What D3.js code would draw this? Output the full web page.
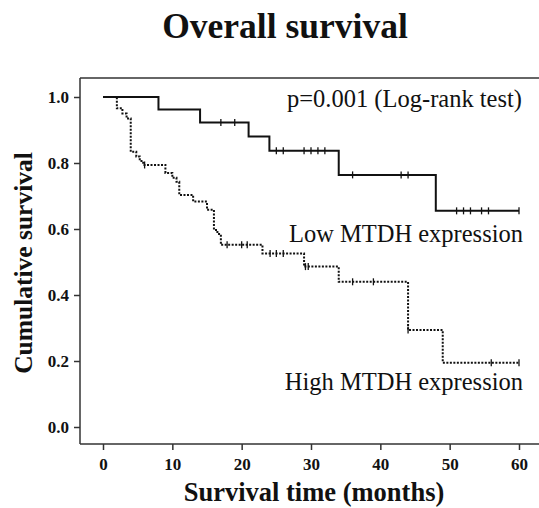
<!DOCTYPE html>
<html>
<head>
<meta charset="utf-8">
<script src="https://cdn.jsdelivr.net/npm/d3@7"></script>
<style>
  body { margin: 0; background: #fff; }
  svg { display: block; }
  text { font-family: "Liberation Serif", "Times New Roman", serif; fill: #111; }
  .axis text { font-size: 17px; font-weight: bold; }
  .axis path, .axis line { stroke: #333; stroke-width: 1.5px; }
</style>
</head>
<body>
<svg id="chart" width="539" height="508"></svg>
<script>
// Kaplan-Meier steps (time in months, survival after event)
var lowTimes  = [0, 8, 14, 21, 24, 34, 48];
var lowSurv   = [1.0, 0.962, 0.923, 0.88, 0.837, 0.764, 0.655];
var lowCensor = [17, 19, 25, 26, 29, 30, 31, 32, 36, 43, 44, 51, 52, 53, 54.6, 55.6, 60];

var highTimes  = [0, 2, 2.8, 3.4, 4, 4.8, 5.3, 5.8, 9, 10, 10.6, 11, 13, 15, 16, 16.5, 17, 23, 29, 34, 44, 49];
var highSurv   = [1.0, 0.966, 0.95, 0.935, 0.834, 0.82, 0.806, 0.794, 0.77, 0.755, 0.743, 0.703, 0.683, 0.658, 0.597, 0.585, 0.552, 0.526, 0.486, 0.44, 0.294, 0.195];
var highCensor = [6, 17.9, 20, 20.8, 24.1, 25, 26, 29.2, 29.6, 36, 39, 44, 56, 60];

var xTicks = [0, 10, 20, 30, 40, 50, 60];
var yTicks = [0, 0.2, 0.4, 0.6, 0.8, 1.0];

var svg = d3.select("#chart");

var x = d3.scaleLinear().domain([0, 60]).range([103, 519]);
var y = d3.scaleLinear().domain([0, 1]).range([427, 97]);

// title
svg.append("text")
  .attr("x", 285).attr("y", 38)
  .attr("text-anchor", "middle")
  .style("font-size", "35.5px").style("font-weight", "bold")
  .text("Overall survival");

// frame top
svg.append("line")
  .attr("x1", 80).attr("x2", 539).attr("y1", 78).attr("y2", 78)
  .attr("stroke", "#333").attr("stroke-width", 1.5);

// axes
var xAxis = svg.append("g")
  .attr("class", "axis")
  .attr("transform", "translate(0,444)")
  .call(d3.axisBottom(x).tickValues(xTicks).tickSize(6).tickPadding(8).tickFormat(d3.format("d")));
xAxis.select(".domain").attr("d", "M80,0H539");

var yAxis = svg.append("g")
  .attr("class", "axis")
  .attr("transform", "translate(80,0)")
  .call(d3.axisLeft(y).tickValues(yTicks).tickSize(6).tickPadding(5).tickFormat(d3.format(".1f")));
yAxis.select(".domain").attr("d", "M0,78V444");

// axis titles
svg.append("text")
  .attr("x", 314).attr("y", 501)
  .attr("text-anchor", "middle")
  .style("font-size", "26.5px").style("font-weight", "bold")
  .text("Survival time (months)");

svg.append("text")
  .attr("transform", "translate(32,263) rotate(-90)")
  .attr("text-anchor", "middle")
  .style("font-size", "25.5px").style("font-weight", "bold")
  .text("Cumulative survival");

function survAt(times, surv, t) {
  var v = surv[0];
  times.forEach(function(tt, i){ if (tt <= t) v = surv[i]; });
  return v;
}

function drawCurve(times, surv, censor, dash) {
  var end = d3.max(censor);
  var pts = times.map(function(t, i){ return [t, surv[i]]; });
  pts.push([end, surv[surv.length - 1]]);

  var line = d3.line()
    .curve(d3.curveStepAfter)
    .x(function(d){ return x(d[0]); })
    .y(function(d){ return y(d[1]); });

  svg.append("path")
    .datum(pts)
    .attr("d", line)
    .attr("fill", "none")
    .attr("stroke", "#111")
    .attr("stroke-width", 2)
    .attr("stroke-dasharray", dash);

  svg.selectAll(null)
    .data(censor)
    .enter().append("line")
    .attr("x1", function(d){ return x(d); })
    .attr("x2", function(d){ return x(d); })
    .attr("y1", function(d){ return y(survAt(times, surv, d)) - 3.5; })
    .attr("y2", function(d){ return y(survAt(times, surv, d)) + 3.5; })
    .attr("stroke", "#111")
    .attr("stroke-width", 1.3);
}

drawCurve(lowTimes, lowSurv, lowCensor, null);
drawCurve(highTimes, highSurv, highCensor, "2,1.5");

// annotations
svg.append("text")
  .attr("x", 522).attr("y", 107)
  .attr("text-anchor", "end")
  .style("font-size", "24.5px")
  .text("p=0.001 (Log-rank test)");

svg.append("text")
  .attr("x", 523).attr("y", 242)
  .attr("text-anchor", "end")
  .style("font-size", "24.5px")
  .text("Low MTDH expression");

svg.append("text")
  .attr("x", 523).attr("y", 390)
  .attr("text-anchor", "end")
  .style("font-size", "24.5px")
  .text("High MTDH expression");
</script>
</body>
</html>
